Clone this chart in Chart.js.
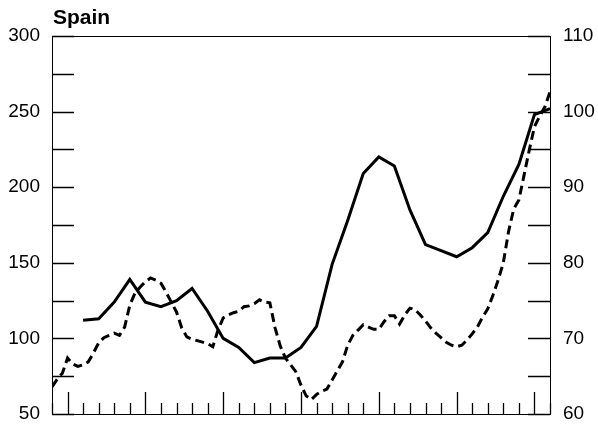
<!DOCTYPE html>
<html lang="en">
<head>
<meta charset="UTF-8">
<title>Spain</title>
<script src="https://cdn.jsdelivr.net/npm/chart.js"></script>
<style>
  html, body { margin: 0; padding: 0; background: #fff; }
  #wrap { width: 598px; height: 427px; }
</style>
</head>
<body>
<div id="wrap"><canvas id="grafico"></canvas></div>

<script>
// titulo
const titulo = 'Spain';

// eixo x: posicoes de trimestre 0..32, marcas maiores a cada 5
const xMin = 0;
const xMax = 32;
const xMajor = [1, 6, 11, 16, 21, 26, 31];

// linha cheia (eixo esquerdo), um valor por trimestre a partir de x = 2
const solidaInicio = 2;
const solida = [112, 113, 124, 139, 124, 121, 125, 133, 118, 100, 94, 84, 87, 87, 94, 108,
                149, 178, 209, 220, 214, 185, 162, 158, 154, 160, 170, 194, 215, 248, 252];

// linha tracejada (eixo direito), mensal: tres pontos por trimestre
const tracejada = [63.6, 64.6, 65.4, 67.4, 66.6, 66.3, 66.5, 66.9, 68.1, 69.4, 70.1, 70.4,
                   70.7, 70.4, 71.5, 74.4, 76.0, 76.8, 77.5, 78.0, 77.7, 77.3, 76.1, 74.8,
                   73.5, 71.4, 70.2, 69.9, 69.7, 69.5, 69.3, 68.9, 71.1, 72.7, 73.1, 73.4,
                   73.6, 74.2, 74.3, 74.6, 75.1, 74.8, 74.7, 71.4, 69.0, 67.4, 66.5, 65.6,
                   63.8, 62.4, 61.9, 62.6, 63.0, 63.3, 64.5, 65.7, 66.9, 69.1, 70.4, 71.1,
                   71.8, 71.5, 71.2, 71.2, 72.2, 73.0, 73.0, 71.9, 73.1, 74.0, 73.8, 73.1,
                   72.3, 71.4, 70.7, 70.1, 69.5, 69.1, 68.9, 69.1, 69.8, 70.6, 71.5, 72.8,
                   73.9, 75.7, 77.7, 80.0, 84.1, 87.1, 88.3, 91.6, 94.9, 98.0, 99.4, 100.6, 102.6];

// eixos y
const esqMin = 50, esqMax = 300, esqPasso = 25, esqRotulo = 50;
const dirMin = 60, dirMax = 110, dirPasso = 5, dirRotulo = 10;

const fonte = "'Liberation Sans', Arial, sans-serif";

// marcas para dentro + moldura + titulo
const marcasDentro = {
  id: 'marcasDentro',
  afterDraw(chart) {
    const c = chart.ctx, a = chart.chartArea;
    const sx = chart.scales.x, sl = chart.scales.yL, sr = chart.scales.yR;
    c.save();
    c.strokeStyle = '#000';
    c.lineWidth = 1.3;
    c.beginPath();
    sl.ticks.forEach(t => {
      const y = Math.round(sl.getPixelForValue(t.value)) + 0.5;
      c.moveTo(a.left, y); c.lineTo(a.left + 22, y);
    });
    sr.ticks.forEach(t => {
      const y = Math.round(sr.getPixelForValue(t.value)) + 0.5;
      c.moveTo(a.right, y); c.lineTo(a.right - 22, y);
    });
    sx.ticks.forEach(t => {
      const x = Math.round(sx.getPixelForValue(t.value)) + 0.5;
      const len = xMajor.includes(t.value) ? 22 : 11;
      c.moveTo(x, a.bottom); c.lineTo(x, a.bottom - len);
    });
    c.stroke();
    c.lineWidth = 1;
    c.strokeRect(Math.round(a.left) + 0.5, Math.round(a.top) + 0.5,
                 Math.round(a.right - a.left), Math.round(a.bottom - a.top));
    c.fillStyle = '#000';
    c.font = 'bold 21px ' + fonte;
    c.textBaseline = 'alphabetic';
    c.textAlign = 'left';
    c.fillText(titulo, a.left + 1, 24);
    c.restore();
  }
};

const ctx = document.getElementById('grafico');

new Chart(ctx, {
  type: 'line',
  data: {
    datasets: [
      {
        label: 'solida',
        data: solida.map((v, i) => ({ x: solidaInicio + i, y: v })),
        yAxisID: 'yL',
        borderColor: '#000',
        borderWidth: 3,
        pointRadius: 0,
        tension: 0
      },
      {
        label: 'tracejada',
        data: tracejada.map((v, i) => ({ x: i / 3, y: v })),
        yAxisID: 'yR',
        borderColor: '#000',
        borderWidth: 3,
        borderDash: [9, 5],
        pointRadius: 0,
        tension: 0
      }
    ]
  },
  options: {
    responsive: true,
    maintainAspectRatio: false,
    animation: false,
    layout: { padding: { top: 36, left: 0, right: 0, bottom: 0 } },
    plugins: {
      legend: { display: false },
      tooltip: { enabled: false }
    },
    scales: {
      x: {
        type: 'linear',
        min: xMin,
        max: xMax,
        ticks: { display: false, stepSize: 1, autoSkip: false },
        grid: { display: false, drawTicks: false },
        border: { display: true, color: '#000', width: 1 },
        afterFit(s) { s.height = 13; s.paddingLeft = 0; s.paddingRight = 0; }
      },
      yL: {
        position: 'left',
        min: esqMin,
        max: esqMax,
        ticks: {
          stepSize: esqPasso,
          padding: 12,
          color: '#000',
          font: { family: fonte, size: 19 },
          callback: v => (v % esqRotulo === 0 ? String(v) : '')
        },
        grid: { display: false, drawTicks: false },
        border: { display: true, color: '#000', width: 1 },
        afterFit(s) { s.width = 52; s.paddingTop = 0; s.paddingBottom = 0; }
      },
      yR: {
        position: 'right',
        min: dirMin,
        max: dirMax,
        ticks: {
          stepSize: dirPasso,
          padding: 13,
          color: '#000',
          font: { family: fonte, size: 19 },
          callback: v => (v % dirRotulo === 0 ? String(v) : '')
        },
        grid: { display: false, drawTicks: false },
        border: { display: true, color: '#000', width: 1 },
        afterFit(s) { s.width = 48; s.paddingTop = 0; s.paddingBottom = 0; }
      }
    }
  },
  plugins: [marcasDentro]
});
</script>
</body>
</html>
